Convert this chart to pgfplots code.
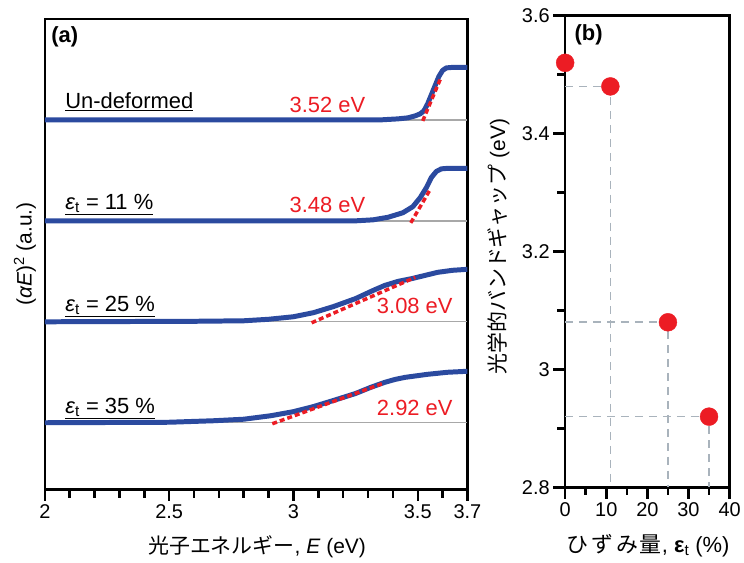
\documentclass[border=0pt]{standalone}
\usepackage{pgfplots}
\pgfplotsset{compat=1.18}
\usepackage{fontspec}
\setmainfont{Liberation Sans}
\newfontfamily\jp{Noto Sans CJK JP}
\definecolor{cblue}{HTML}{2B4A9F}
\definecolor{cred}{HTML}{EC1C24}
\definecolor{cgray}{HTML}{A8A8A8}
\definecolor{dgray}{HTML}{A9B3BC}
\newcommand\lf{\fontsize{22}{26}\selectfont}
\newcommand\af{\fontsize{21}{25}\selectfont}
\newcommand\tf{\fontsize{20}{24}\selectfont}
\begin{document}
\begin{tikzpicture}
\begin{axis}[
  at={(45pt,73pt)},
  scale only axis, width=424pt, height=472pt,
  xmin=2, xmax=3.7, ymin=-0.66, ymax=4.0,
  xtick={2,2.5,3,3.5,3.7}, xticklabels={2,2.5,3,3.5,3.7},
  minor xtick={2.1,2.2,2.3,2.4,2.6,2.7,2.8,2.9,3.1,3.2,3.3,3.4,3.6},
  ytick=\empty,
  tick align=inside, xtick pos=left, ytick pos=left,
  major tick length=-12pt, minor tick length=-9pt,
  axis line style={line width=2.5pt},
  tick style={black, line width=2.5pt},
  ticklabel style={font=\tf},
  xticklabel style={yshift=-12pt},
  xlabel={{\jp 光子エネルギー}, \textit{E} (eV)},
  xlabel style={font=\af, at={(axis description cs:0.502,-0.121)}, anchor=center},
  ylabel={(\textit{αE})\textsuperscript{2} (a.u.)},
  ylabel style={font=\af, at={(axis description cs:-0.047,0.5)}, anchor=center},
]
% baselines
\addplot[cgray, line width=1.4pt] coordinates {(2,3) (3.7,3)};
\addplot[cgray, line width=1.4pt] coordinates {(2,2) (3.7,2)};
\addplot[cgray, line width=1.4pt] coordinates {(2,1) (3.7,1)};
\addplot[cgray, line width=1.4pt] coordinates {(2,0) (3.7,0)};
% curves
\addplot[cblue, line width=5pt, line join=round] coordinates {
(2.0,3) (3.35,3) (3.42,3.01) (3.46,3.02) (3.49,3.04) (3.51,3.06) (3.525,3.09)
(3.54,3.16) (3.555,3.25) (3.57,3.34) (3.585,3.43) (3.60,3.49) (3.615,3.515)
(3.64,3.52) (3.7,3.52)};
\addplot[cblue, line width=5pt, line join=round] coordinates {
(2.0,2) (3.25,2) (3.32,2.01) (3.38,2.035) (3.44,2.08) (3.48,2.14) (3.51,2.23)
(3.535,2.33) (3.555,2.43) (3.575,2.49) (3.595,2.515) (3.62,2.52) (3.7,2.52)};
\addplot[cblue, line width=5pt, line join=round] coordinates {
(2.0,1) (2.6,1.005) (2.8,1.01) (2.9,1.025) (3.0,1.05) (3.08,1.09) (3.16,1.15)
(3.25,1.23) (3.32,1.31) (3.367,1.36) (3.42,1.40) (3.48,1.43) (3.53,1.46)
(3.58,1.49) (3.64,1.51) (3.7,1.52)};
\addplot[cblue, line width=5pt, line join=round] coordinates {
(2.0,0) (2.5,0.005) (2.68,0.02) (2.8,0.035) (2.91,0.07) (3.0,0.11) (3.08,0.16)
(3.16,0.22) (3.25,0.29) (3.31,0.35) (3.367,0.40) (3.41,0.43) (3.45,0.45)
(3.54,0.48) (3.62,0.50) (3.7,0.51)};
% tangents
\addplot[cred, line width=3.5pt, dash pattern=on 5pt off 3pt] coordinates {(3.52,2.99) (3.592,3.41)};
\addplot[cred, line width=3.5pt, dash pattern=on 5pt off 3pt] coordinates {(3.472,1.98) (3.55,2.31)};
\addplot[cred, line width=3.5pt, dash pattern=on 5pt off 3pt] coordinates {(3.073,0.99) (3.49,1.44)};
\addplot[cred, line width=3.5pt, dash pattern=on 5pt off 3pt] coordinates {(2.915,-0.01) (3.36,0.39)};
% labels
\node[anchor=west, font=\lf\bfseries] at (axis cs:2.012,3.82) {(a)};
\node[anchor=base west, font=\lf] at (axis cs:2.068,3.115) {\underline{Un-deformed}};
\node[anchor=base west, font=\lf] at (axis cs:2.068,2.11) {\underline{\textit{ε}\textsubscript{t} = 11 \%}};
\node[anchor=base west, font=\lf] at (axis cs:2.068,1.1) {\underline{\textit{ε}\textsubscript{t} = 25 \%}};
\node[anchor=base west, font=\lf] at (axis cs:2.068,0.09) {\underline{\textit{ε}\textsubscript{t} = 35 \%}};
\node[anchor=base, font=\lf, text=cred] at (axis cs:3.137,3.07) {3.52 eV};
\node[anchor=base, font=\lf, text=cred] at (axis cs:3.137,2.08) {3.48 eV};
\node[anchor=base, font=\lf, text=cred] at (axis cs:3.488,1.08) {3.08 eV};
\node[anchor=base, font=\lf, text=cred] at (axis cs:3.488,0.07) {2.92 eV};
\end{axis}
\begin{axis}[
  at={(567pt,75pt)},
  scale only axis, width=165pt, height=473.3pt,
  xmin=0, xmax=40, ymin=2.8, ymax=3.6,
  xtick={0,10,20,30,40}, xticklabels={0,10,20,30,40},
  minor xtick={5,15,25,35},
  ytick={2.8,3,3.2,3.4,3.6}, yticklabels={2.8,3,3.2,3.4,3.6},
  minor ytick={2.9,3.1,3.3,3.5},
  tick align=inside, xtick pos=left, ytick pos=left,
  major tick length=-12pt, minor tick length=-8pt,
  axis line style={line width=2.5pt},
  tick style={black, line width=2.5pt},
  ticklabel style={font=\tf},
  xticklabel style={yshift=-12pt},
  yticklabel style={xshift=-12pt},
  clip=false,
  xlabel={{\jp ひ\hspace{3pt}ず\hspace{3pt}み\hspace{2pt}量}, \textbf{ε}\textsubscript{t} (\%)},
  xlabel style={font=\lf, at={(axis description cs:0.503,-0.1226)}, anchor=center},
  ylabel={{\jp 光学的バンドギャップ} (eV)},
  ylabel style={font=\fontsize{21}{25}\selectfont, at={(axis description cs:-0.406,0.51)}, anchor=center},
]
\addplot[dgray, line width=1.6pt, dash pattern=on 8pt off 6pt] coordinates {(0,3.48) (11,3.48) (11,2.8)};
\addplot[dgray, line width=1.6pt, dash pattern=on 8pt off 6pt] coordinates {(0,3.08) (25,3.08) (25,2.8)};
\addplot[dgray, line width=1.6pt, dash pattern=on 8pt off 6pt] coordinates {(0,2.92) (35,2.92) (35,2.8)};
\addplot[only marks, mark=*, mark size=9pt, mark options={draw=cred, fill=cred}] coordinates {(0,3.52) (11,3.48) (25,3.08) (35,2.92)};
\node[anchor=west, font=\lf\bfseries] at (axis cs:1.45,3.567) {(b)};
\end{axis}
\path (0pt,0pt) rectangle (744pt,564pt);
\end{tikzpicture}
\end{document}
